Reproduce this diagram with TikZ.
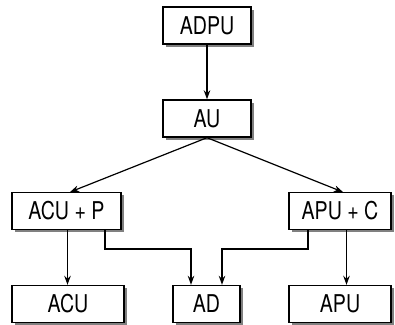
\documentclass[tikz,border=0pt]{standalone}
\usepackage{fontspec}
\setmainfont{TeX Gyre Heros}[FakeStretch=0.8]
\usetikzlibrary{arrows.meta,shadows}
\begin{document}
\begin{tikzpicture}[x=1pt,y=1pt,
  box/.style={draw=black,line width=1.4pt,fill=white,inner sep=0pt,
    font=\fontsize{24.5}{25}\selectfont,
    drop shadow={shadow xshift=2.6pt,shadow yshift=-2.6pt,fill=black!50,opacity=1}},
  arr/.style={line width=1.2pt,-{Stealth[length=9pt,width=6.5pt]}},
  ln/.style={line width=1.2pt}]
\useasboundingbox (0,0) rectangle (395,324);
\node[box,minimum width=88pt,minimum height=37pt] (adpu) at (207,298.5) {ADPU};
\node[box,minimum width=88pt,minimum height=37pt] (au) at (207,205.5) {AU};
\node[box,minimum width=109pt,minimum height=36.5pt] (acup) at (66.5,113) {ACU + P};
\node[box,minimum width=102pt,minimum height=36.5pt] (apuc) at (340,113) {APU + C};
\node[box,minimum width=112pt,minimum height=37pt] (acu) at (68,20) {ACU};
\node[box,minimum width=67pt,minimum height=37pt] (ad) at (206.5,20) {AD};
\node[box,minimum width=102pt,minimum height=37pt] (apu) at (340,20) {APU};
\draw[arr] (adpu.south) -- (au.north);
\coordinate (t1) at (70,0);
\coordinate (t2) at (343,0);
\draw[arr] (au.south) -- (acup.north -| t1);
\draw[arr] (au.south) -- (apuc.north -| t2);
\coordinate (c1) at (67.5,0);
\draw[arr] (acup.south -| c1) -- (acu.north -| c1);
\coordinate (c2) at (346.5,0);
\draw[arr] (apuc.south -| c2) -- (apu.north -| c2);
\coordinate (l1) at (105,75);
\coordinate (l2) at (191,75);
\draw[arr] (acup.south -| l1) -- (l1) -- (l2) -- (ad.north -| l2);
\coordinate (r1) at (308,75);
\coordinate (r2) at (222,75);
\draw[arr] (apuc.south -| r1) -- (r1) -- (r2) -- (ad.north -| r2);
\end{tikzpicture}
\end{document}
